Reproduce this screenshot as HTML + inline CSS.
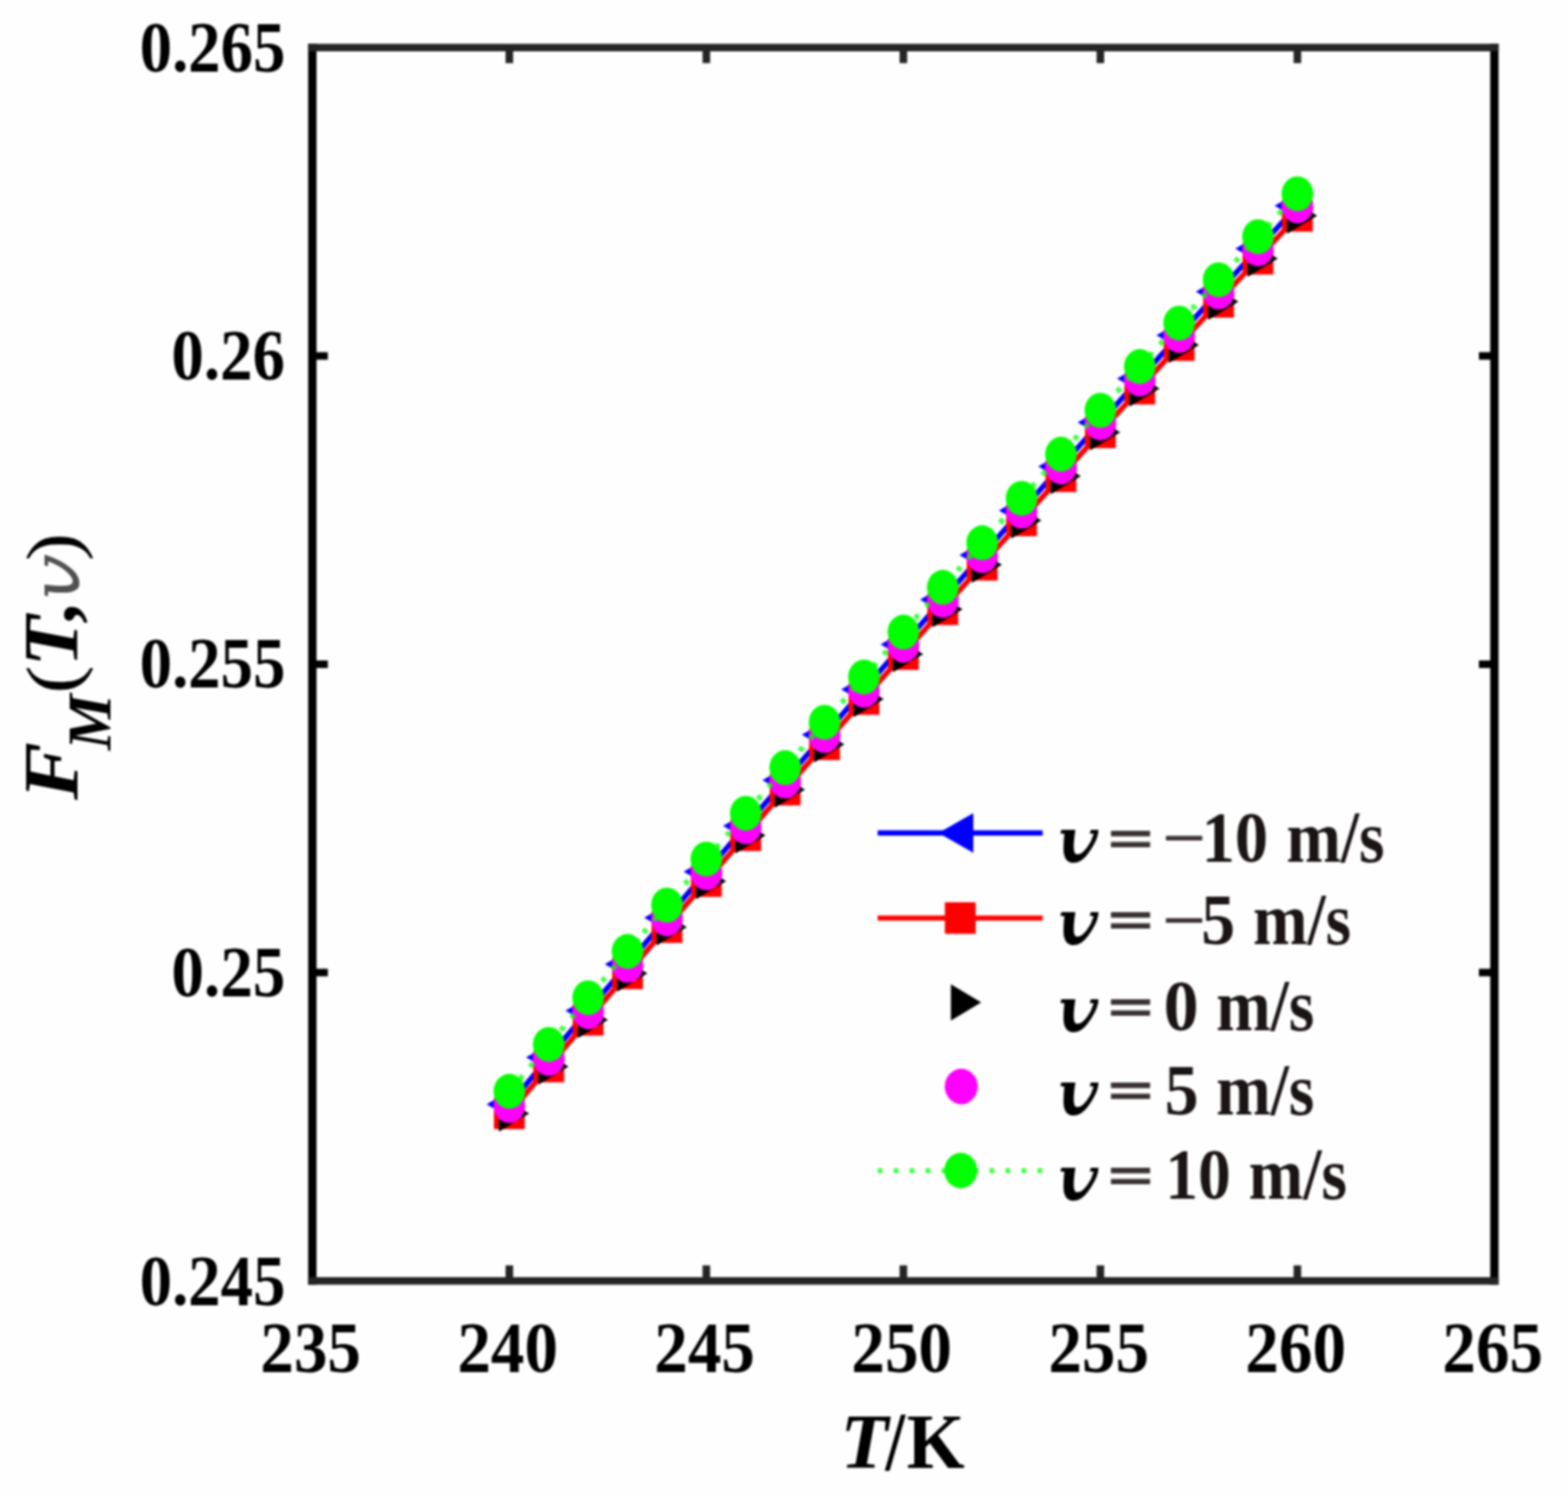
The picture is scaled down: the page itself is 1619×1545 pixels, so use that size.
<!DOCTYPE html>
<html lang="en">
<head>
<meta charset="utf-8">
<title>F_M(T, v) versus T/K</title>
<style>
html, body { margin: 0; padding: 0; background: #fefefe; }
body { width: 1619px; height: 1545px; overflow: hidden; }
svg { display: block; }
svg text { font-family: "Liberation Serif", "DejaVu Serif", serif; font-kerning: none; white-space: pre; }
svg .dj { font-family: "DejaVu Serif", "Liberation Serif", serif; }
svg .mth { font-family: "DejaVu Math TeX Gyre", "DejaVu Serif", "Liberation Serif", serif; }
</style>
</head>
<body>
<svg width="1619" height="1545" viewBox="0 0 1619 1545" style="filter: blur(0.9px)">
<rect width="1619" height="1545" fill="#fefefe"/>
<g id="series">
<polyline points="525.92,1140.39 566.60,1091.93 607.28,1043.68 647.97,995.66 688.65,947.85 729.33,900.25 770.02,852.88 810.70,805.72 851.38,758.79 892.07,712.06 932.75,665.56 973.43,619.27 1014.12,573.21 1054.80,527.35 1095.48,481.72 1136.17,436.30 1176.85,391.11 1217.53,346.13 1258.22,301.36 1298.90,256.82 1339.58,212.49" fill="none" stroke="#0000ff" stroke-width="5.4"/>
<polygon points="502.42,1140.39 538.42,1119.89 538.42,1160.89" fill="#0000ff"/>
<polygon points="543.10,1091.93 579.10,1071.43 579.10,1112.43" fill="#0000ff"/>
<polygon points="583.78,1043.68 619.78,1023.18 619.78,1064.18" fill="#0000ff"/>
<polygon points="624.47,995.66 660.47,975.16 660.47,1016.16" fill="#0000ff"/>
<polygon points="665.15,947.85 701.15,927.35 701.15,968.35" fill="#0000ff"/>
<polygon points="705.83,900.25 741.83,879.75 741.83,920.75" fill="#0000ff"/>
<polygon points="746.52,852.88 782.52,832.38 782.52,873.38" fill="#0000ff"/>
<polygon points="787.20,805.72 823.20,785.22 823.20,826.22" fill="#0000ff"/>
<polygon points="827.88,758.79 863.88,738.29 863.88,779.29" fill="#0000ff"/>
<polygon points="868.57,712.06 904.57,691.56 904.57,732.56" fill="#0000ff"/>
<polygon points="909.25,665.56 945.25,645.06 945.25,686.06" fill="#0000ff"/>
<polygon points="949.93,619.27 985.93,598.77 985.93,639.77" fill="#0000ff"/>
<polygon points="990.62,573.21 1026.62,552.71 1026.62,593.71" fill="#0000ff"/>
<polygon points="1031.30,527.35 1067.30,506.85 1067.30,547.85" fill="#0000ff"/>
<polygon points="1071.98,481.72 1107.98,461.22 1107.98,502.22" fill="#0000ff"/>
<polygon points="1112.67,436.30 1148.67,415.80 1148.67,456.80" fill="#0000ff"/>
<polygon points="1153.35,391.11 1189.35,370.61 1189.35,411.61" fill="#0000ff"/>
<polygon points="1194.03,346.13 1230.03,325.63 1230.03,366.63" fill="#0000ff"/>
<polygon points="1234.72,301.36 1270.72,280.86 1270.72,321.86" fill="#0000ff"/>
<polygon points="1275.40,256.82 1311.40,236.32 1311.40,277.32" fill="#0000ff"/>
<polygon points="1316.08,212.49 1352.08,191.99 1352.08,232.99" fill="#0000ff"/>
<polyline points="525.92,1149.84 566.60,1101.43 607.28,1053.23 647.97,1005.26 688.65,957.50 729.33,909.95 770.02,862.63 810.70,815.52 851.38,768.64 892.07,721.96 932.75,675.51 973.43,629.27 1014.12,583.26 1054.80,537.45 1095.48,491.87 1136.17,446.50 1176.85,401.36 1217.53,356.43 1258.22,311.71 1298.90,267.22 1339.58,222.94" fill="none" stroke="#ff0000" stroke-width="5.4"/>
<rect x="510.02" y="1133.54" width="31.8" height="32.6" fill="#ff0000"/>
<rect x="550.70" y="1085.13" width="31.8" height="32.6" fill="#ff0000"/>
<rect x="591.38" y="1036.93" width="31.8" height="32.6" fill="#ff0000"/>
<rect x="632.07" y="988.96" width="31.8" height="32.6" fill="#ff0000"/>
<rect x="672.75" y="941.20" width="31.8" height="32.6" fill="#ff0000"/>
<rect x="713.43" y="893.65" width="31.8" height="32.6" fill="#ff0000"/>
<rect x="754.12" y="846.33" width="31.8" height="32.6" fill="#ff0000"/>
<rect x="794.80" y="799.22" width="31.8" height="32.6" fill="#ff0000"/>
<rect x="835.48" y="752.34" width="31.8" height="32.6" fill="#ff0000"/>
<rect x="876.17" y="705.66" width="31.8" height="32.6" fill="#ff0000"/>
<rect x="916.85" y="659.21" width="31.8" height="32.6" fill="#ff0000"/>
<rect x="957.53" y="612.97" width="31.8" height="32.6" fill="#ff0000"/>
<rect x="998.22" y="566.96" width="31.8" height="32.6" fill="#ff0000"/>
<rect x="1038.90" y="521.15" width="31.8" height="32.6" fill="#ff0000"/>
<rect x="1079.58" y="475.57" width="31.8" height="32.6" fill="#ff0000"/>
<rect x="1120.27" y="430.20" width="31.8" height="32.6" fill="#ff0000"/>
<rect x="1160.95" y="385.06" width="31.8" height="32.6" fill="#ff0000"/>
<rect x="1201.63" y="340.13" width="31.8" height="32.6" fill="#ff0000"/>
<rect x="1242.32" y="295.41" width="31.8" height="32.6" fill="#ff0000"/>
<rect x="1283.00" y="250.92" width="31.8" height="32.6" fill="#ff0000"/>
<rect x="1323.68" y="206.64" width="31.8" height="32.6" fill="#ff0000"/>
<polygon points="546.42,1149.99 515.12,1131.19 515.12,1168.79" fill="#000"/>
<polygon points="587.10,1101.56 555.80,1082.76 555.80,1120.36" fill="#000"/>
<polygon points="627.78,1053.35 596.48,1034.55 596.48,1072.15" fill="#000"/>
<polygon points="668.47,1005.36 637.17,986.56 637.17,1024.16" fill="#000"/>
<polygon points="709.15,957.59 677.85,938.79 677.85,976.39" fill="#000"/>
<polygon points="749.83,910.03 718.53,891.23 718.53,928.83" fill="#000"/>
<polygon points="790.52,862.69 759.22,843.89 759.22,881.49" fill="#000"/>
<polygon points="831.20,815.57 799.90,796.77 799.90,834.37" fill="#000"/>
<polygon points="871.88,768.67 840.58,749.87 840.58,787.47" fill="#000"/>
<polygon points="912.57,721.98 881.27,703.18 881.27,740.78" fill="#000"/>
<polygon points="953.25,675.51 921.95,656.71 921.95,694.31" fill="#000"/>
<polygon points="993.93,629.26 962.63,610.46 962.63,648.06" fill="#000"/>
<polygon points="1034.62,583.23 1003.32,564.43 1003.32,602.03" fill="#000"/>
<polygon points="1075.30,537.41 1044.00,518.61 1044.00,556.21" fill="#000"/>
<polygon points="1115.98,491.81 1084.68,473.01 1084.68,510.61" fill="#000"/>
<polygon points="1156.67,446.43 1125.37,427.63 1125.37,465.23" fill="#000"/>
<polygon points="1197.35,401.27 1166.05,382.47 1166.05,420.07" fill="#000"/>
<polygon points="1238.03,356.32 1206.73,337.52 1206.73,375.12" fill="#000"/>
<polygon points="1278.72,311.59 1247.42,292.79 1247.42,330.39" fill="#000"/>
<polygon points="1319.40,267.08 1288.10,248.28 1288.10,285.88" fill="#000"/>
<polygon points="1360.08,222.79 1328.78,203.99 1328.78,241.59" fill="#000"/>
<ellipse cx="525.92" cy="1141.69" rx="16.3" ry="18.0" fill="#ff00ff"/>
<ellipse cx="566.60" cy="1093.17" rx="16.3" ry="18.0" fill="#ff00ff"/>
<ellipse cx="607.28" cy="1044.86" rx="16.3" ry="18.0" fill="#ff00ff"/>
<ellipse cx="647.97" cy="996.78" rx="16.3" ry="18.0" fill="#ff00ff"/>
<ellipse cx="688.65" cy="948.91" rx="16.3" ry="18.0" fill="#ff00ff"/>
<ellipse cx="729.33" cy="901.25" rx="16.3" ry="18.0" fill="#ff00ff"/>
<ellipse cx="770.02" cy="853.82" rx="16.3" ry="18.0" fill="#ff00ff"/>
<ellipse cx="810.70" cy="806.60" rx="16.3" ry="18.0" fill="#ff00ff"/>
<ellipse cx="851.38" cy="759.61" rx="16.3" ry="18.0" fill="#ff00ff"/>
<ellipse cx="892.07" cy="712.82" rx="16.3" ry="18.0" fill="#ff00ff"/>
<ellipse cx="932.75" cy="666.26" rx="16.3" ry="18.0" fill="#ff00ff"/>
<ellipse cx="973.43" cy="619.91" rx="16.3" ry="18.0" fill="#ff00ff"/>
<ellipse cx="1014.12" cy="573.79" rx="16.3" ry="18.0" fill="#ff00ff"/>
<ellipse cx="1054.80" cy="527.87" rx="16.3" ry="18.0" fill="#ff00ff"/>
<ellipse cx="1095.48" cy="482.18" rx="16.3" ry="18.0" fill="#ff00ff"/>
<ellipse cx="1136.17" cy="436.70" rx="16.3" ry="18.0" fill="#ff00ff"/>
<ellipse cx="1176.85" cy="391.45" rx="16.3" ry="18.0" fill="#ff00ff"/>
<ellipse cx="1217.53" cy="346.41" rx="16.3" ry="18.0" fill="#ff00ff"/>
<ellipse cx="1258.22" cy="301.58" rx="16.3" ry="18.0" fill="#ff00ff"/>
<ellipse cx="1298.90" cy="256.98" rx="16.3" ry="18.0" fill="#ff00ff"/>
<ellipse cx="1339.58" cy="212.59" rx="16.3" ry="18.0" fill="#ff00ff"/>
<polyline points="525.92,1127.09 566.60,1078.68 607.28,1030.48 647.97,982.51 688.65,934.75 729.33,887.20 770.02,839.88 810.70,792.77 851.38,745.89 892.07,699.21 932.75,652.76 973.43,606.52 1014.12,560.51 1054.80,514.70 1095.48,469.12 1136.17,423.75 1176.85,378.61 1217.53,333.68 1258.22,288.96 1298.90,244.47 1339.58,200.19" fill="none" stroke="#00ff00" stroke-width="5.4" stroke-dasharray="5 11.5" stroke-opacity="0.75"/>
<ellipse cx="525.92" cy="1127.09" rx="16.3" ry="18.0" fill="#00ff00"/>
<ellipse cx="566.60" cy="1078.68" rx="16.3" ry="18.0" fill="#00ff00"/>
<ellipse cx="607.28" cy="1030.48" rx="16.3" ry="18.0" fill="#00ff00"/>
<ellipse cx="647.97" cy="982.51" rx="16.3" ry="18.0" fill="#00ff00"/>
<ellipse cx="688.65" cy="934.75" rx="16.3" ry="18.0" fill="#00ff00"/>
<ellipse cx="729.33" cy="887.20" rx="16.3" ry="18.0" fill="#00ff00"/>
<ellipse cx="770.02" cy="839.88" rx="16.3" ry="18.0" fill="#00ff00"/>
<ellipse cx="810.70" cy="792.77" rx="16.3" ry="18.0" fill="#00ff00"/>
<ellipse cx="851.38" cy="745.89" rx="16.3" ry="18.0" fill="#00ff00"/>
<ellipse cx="892.07" cy="699.21" rx="16.3" ry="18.0" fill="#00ff00"/>
<ellipse cx="932.75" cy="652.76" rx="16.3" ry="18.0" fill="#00ff00"/>
<ellipse cx="973.43" cy="606.52" rx="16.3" ry="18.0" fill="#00ff00"/>
<ellipse cx="1014.12" cy="560.51" rx="16.3" ry="18.0" fill="#00ff00"/>
<ellipse cx="1054.80" cy="514.70" rx="16.3" ry="18.0" fill="#00ff00"/>
<ellipse cx="1095.48" cy="469.12" rx="16.3" ry="18.0" fill="#00ff00"/>
<ellipse cx="1136.17" cy="423.75" rx="16.3" ry="18.0" fill="#00ff00"/>
<ellipse cx="1176.85" cy="378.61" rx="16.3" ry="18.0" fill="#00ff00"/>
<ellipse cx="1217.53" cy="333.68" rx="16.3" ry="18.0" fill="#00ff00"/>
<ellipse cx="1258.22" cy="288.96" rx="16.3" ry="18.0" fill="#00ff00"/>
<ellipse cx="1298.90" cy="244.47" rx="16.3" ry="18.0" fill="#00ff00"/>
<ellipse cx="1339.58" cy="200.19" rx="16.3" ry="18.0" fill="#00ff00"/>
</g>
<g id="axes">
<line x1="322.5" y1="45.300000000000004" x2="322.5" y2="1326.7" stroke="#000" stroke-width="8.6"/>
<line x1="1543.0" y1="45.300000000000004" x2="1543.0" y2="1326.7" stroke="#000" stroke-width="8.6"/>
<line x1="318.2" y1="49.2" x2="1547.3" y2="49.2" stroke="#242424" stroke-width="7.8"/>
<line x1="318.2" y1="1322.8" x2="1547.3" y2="1322.8" stroke="#242424" stroke-width="7.8"/>
<line x1="525.92" y1="49.2" x2="525.92" y2="65.2" stroke="#242424" stroke-width="7.8"/>
<line x1="525.92" y1="1322.8" x2="525.92" y2="1306.8" stroke="#242424" stroke-width="7.8"/>
<line x1="729.33" y1="49.2" x2="729.33" y2="65.2" stroke="#242424" stroke-width="7.8"/>
<line x1="729.33" y1="1322.8" x2="729.33" y2="1306.8" stroke="#242424" stroke-width="7.8"/>
<line x1="932.75" y1="49.2" x2="932.75" y2="65.2" stroke="#242424" stroke-width="7.8"/>
<line x1="932.75" y1="1322.8" x2="932.75" y2="1306.8" stroke="#242424" stroke-width="7.8"/>
<line x1="1136.17" y1="49.2" x2="1136.17" y2="65.2" stroke="#242424" stroke-width="7.8"/>
<line x1="1136.17" y1="1322.8" x2="1136.17" y2="1306.8" stroke="#242424" stroke-width="7.8"/>
<line x1="1339.58" y1="49.2" x2="1339.58" y2="65.2" stroke="#242424" stroke-width="7.8"/>
<line x1="1339.58" y1="1322.8" x2="1339.58" y2="1306.8" stroke="#242424" stroke-width="7.8"/>
<line x1="322.5" y1="1004.40" x2="338.5" y2="1004.40" stroke="#000" stroke-width="7.8"/>
<line x1="1543.0" y1="1004.40" x2="1527.0" y2="1004.40" stroke="#000" stroke-width="7.8"/>
<line x1="322.5" y1="686.00" x2="338.5" y2="686.00" stroke="#000" stroke-width="7.8"/>
<line x1="1543.0" y1="686.00" x2="1527.0" y2="686.00" stroke="#000" stroke-width="7.8"/>
<line x1="322.5" y1="367.60" x2="338.5" y2="367.60" stroke="#000" stroke-width="7.8"/>
<line x1="1543.0" y1="367.60" x2="1527.0" y2="367.60" stroke="#000" stroke-width="7.8"/>
</g>
<g id="legend">
<line x1="906.2" y1="860.2" x2="1076.6" y2="860.2" stroke="#0000ff" stroke-width="5.4"/>
<polygon points="969.00,860.20 1005.00,839.70 1005.00,880.70" fill="#0000ff"/>
<line x1="906.2" y1="948.1" x2="1076.6" y2="948.1" stroke="#ff0000" stroke-width="5.4"/>
<rect x="975.60" y="931.80" width="31.8" height="32.6" fill="#ff0000"/>
<polygon points="1013.10,1035.30 981.80,1016.50 981.80,1054.10" fill="#000"/>
<ellipse cx="992.50" cy="1122.10" rx="17.0" ry="18.3" fill="#ff00ff"/>
<line x1="906.2" y1="1208.9" x2="1077.6" y2="1208.9" stroke="#00ff00" stroke-width="5" stroke-dasharray="5 11.5" stroke-opacity="0.75"/>
<ellipse cx="992.00" cy="1208.90" rx="17.0" ry="18.3" fill="#00ff00"/>
</g>
<g id="labels">
<text><tspan x="268.74" y="1416.93" font-size="73.65" textLength="103.95" lengthAdjust="spacingAndGlyphs" font-weight="bold" fill="#000">235</tspan></text>
<text><tspan x="472.15" y="1416.93" font-size="73.65" textLength="104.06" lengthAdjust="spacingAndGlyphs" font-weight="bold" fill="#000">240</tspan></text>
<text><tspan x="675.57" y="1416.93" font-size="73.65" textLength="103.95" lengthAdjust="spacingAndGlyphs" font-weight="bold" fill="#000">245</tspan></text>
<text><tspan x="878.99" y="1416.93" font-size="73.65" textLength="104.06" lengthAdjust="spacingAndGlyphs" font-weight="bold" fill="#000">250</tspan></text>
<text><tspan x="1082.41" y="1416.93" font-size="73.65" textLength="103.95" lengthAdjust="spacingAndGlyphs" font-weight="bold" fill="#000">255</tspan></text>
<text><tspan x="1285.82" y="1416.93" font-size="73.65" textLength="104.06" lengthAdjust="spacingAndGlyphs" font-weight="bold" fill="#000">260</tspan></text>
<text><tspan x="1489.24" y="1416.93" font-size="73.65" textLength="103.95" lengthAdjust="spacingAndGlyphs" font-weight="bold" fill="#000">265</tspan></text>
<text><tspan x="144.20" y="73.92" font-size="74.54" textLength="150.50" lengthAdjust="spacingAndGlyphs" font-weight="bold" fill="#000">0.265</tspan></text>
<text><tspan x="177.00" y="392.32" font-size="74.54" textLength="117.21" lengthAdjust="spacingAndGlyphs" font-weight="bold" fill="#000">0.26</tspan></text>
<text><tspan x="144.20" y="710.42" font-size="74.54" textLength="150.50" lengthAdjust="spacingAndGlyphs" font-weight="bold" fill="#000">0.255</tspan></text>
<text><tspan x="176.99" y="1028.82" font-size="74.54" textLength="117.73" lengthAdjust="spacingAndGlyphs" font-weight="bold" fill="#000">0.25</tspan></text>
<text><tspan x="144.20" y="1347.82" font-size="74.54" textLength="150.50" lengthAdjust="spacingAndGlyphs" font-weight="bold" fill="#000">0.245</tspan></text>
<text><tspan x="867.86" y="1516.15" font-size="79.72" textLength="49.44" lengthAdjust="spacingAndGlyphs" font-weight="bold" font-style="italic" fill="#000">T</tspan><tspan x="914.26" y="1518.11" font-size="85.72" textLength="20.24" lengthAdjust="spacingAndGlyphs" font-weight="bold" fill="#000">/</tspan><tspan x="936.34" y="1516.15" font-size="79.72" textLength="59.71" lengthAdjust="spacingAndGlyphs" font-weight="bold" fill="#000">K</tspan></text>
<text transform="rotate(-90)"><tspan x="-826.26" y="80.25" font-size="81.10" textLength="60.01" lengthAdjust="spacingAndGlyphs" font-weight="bold" font-style="italic" fill="#000">F</tspan><tspan x="-774.69" y="113.85" font-size="63.53" textLength="57.93" lengthAdjust="spacingAndGlyphs" font-weight="bold" font-style="italic" fill="#000">M</tspan><tspan x="-716.28" y="80.33" font-size="76.65" textLength="29.04" lengthAdjust="spacingAndGlyphs"  fill="#000">(</tspan><tspan x="-688.53" y="80.25" font-size="81.10" textLength="52.76" lengthAdjust="spacingAndGlyphs" font-weight="bold" font-style="italic" fill="#000">T</tspan><tspan x="-643.92" y="78.43" font-size="80.86" textLength="20.25" lengthAdjust="spacingAndGlyphs" font-weight="bold" fill="#000">,</tspan><tspan x="-622.63" y="82.15" font-size="68.98" textLength="56.46" lengthAdjust="spacingAndGlyphs" class="mth" fill="#505050">𝑣</tspan><tspan x="-579.35" y="80.33" font-size="76.65" textLength="28.91" lengthAdjust="spacingAndGlyphs"  fill="#000">)</tspan></text>
<text><tspan x="1089.53" y="891.45" font-size="65.58" textLength="50.31" lengthAdjust="spacingAndGlyphs" class="mth" fill="#000">𝒗</tspan> <tspan x="1140.31" y="881.82" font-size="50.15" textLength="54.08" lengthAdjust="spacingAndGlyphs" class="dj" font-weight="bold" fill="#3a3232">=</tspan> <tspan x="1199.50" y="888.43" font-size="67.31" textLength="45.97" lengthAdjust="spacingAndGlyphs" font-weight="bold" fill="#3a3232">−</tspan><tspan x="1240.75" y="890.12" font-size="74.84" textLength="68.72" lengthAdjust="spacingAndGlyphs" font-weight="bold" fill="#1a1414">10</tspan> <tspan x="1328.13" y="890.11" font-size="75.55" textLength="101.47" lengthAdjust="spacingAndGlyphs" font-weight="bold" fill="#1a1414">m/s</tspan></text>
<text><tspan x="1089.53" y="975.85" font-size="65.58" textLength="50.31" lengthAdjust="spacingAndGlyphs" class="mth" fill="#000">𝒗</tspan> <tspan x="1140.31" y="966.22" font-size="50.15" textLength="54.08" lengthAdjust="spacingAndGlyphs" class="dj" font-weight="bold" fill="#3a3232">=</tspan> <tspan x="1199.50" y="972.83" font-size="67.31" textLength="45.97" lengthAdjust="spacingAndGlyphs" font-weight="bold" fill="#3a3232">−</tspan><tspan x="1240.24" y="974.52" font-size="74.84" textLength="35.08" lengthAdjust="spacingAndGlyphs" font-weight="bold" fill="#1a1414">5</tspan> <tspan x="1293.73" y="974.51" font-size="75.55" textLength="101.47" lengthAdjust="spacingAndGlyphs" font-weight="bold" fill="#1a1414">m/s</tspan></text>
<text><tspan x="1089.53" y="1065.75" font-size="65.58" textLength="50.31" lengthAdjust="spacingAndGlyphs" class="mth" fill="#000">𝒗</tspan> <tspan x="1140.31" y="1056.12" font-size="50.15" textLength="54.08" lengthAdjust="spacingAndGlyphs" class="dj" font-weight="bold" fill="#3a3232">=</tspan> <tspan x="1201.60" y="1064.42" font-size="74.84" textLength="36.10" lengthAdjust="spacingAndGlyphs" font-weight="bold" fill="#1a1414">0</tspan> <tspan x="1255.73" y="1064.41" font-size="75.55" textLength="101.47" lengthAdjust="spacingAndGlyphs" font-weight="bold" fill="#1a1414">m/s</tspan></text>
<text><tspan x="1089.53" y="1151.85" font-size="65.58" textLength="50.31" lengthAdjust="spacingAndGlyphs" class="mth" fill="#000">𝒗</tspan> <tspan x="1140.31" y="1142.22" font-size="50.15" textLength="54.08" lengthAdjust="spacingAndGlyphs" class="dj" font-weight="bold" fill="#3a3232">=</tspan> <tspan x="1202.44" y="1150.52" font-size="74.84" textLength="35.08" lengthAdjust="spacingAndGlyphs" font-weight="bold" fill="#1a1414">5</tspan> <tspan x="1255.73" y="1150.51" font-size="75.55" textLength="101.47" lengthAdjust="spacingAndGlyphs" font-weight="bold" fill="#1a1414">m/s</tspan></text>
<text><tspan x="1089.53" y="1239.75" font-size="65.58" textLength="50.31" lengthAdjust="spacingAndGlyphs" class="mth" fill="#000">𝒗</tspan> <tspan x="1140.31" y="1230.12" font-size="50.15" textLength="54.08" lengthAdjust="spacingAndGlyphs" class="dj" font-weight="bold" fill="#3a3232">=</tspan> <tspan x="1203.24" y="1238.42" font-size="74.84" textLength="67.59" lengthAdjust="spacingAndGlyphs" font-weight="bold" fill="#1a1414">10</tspan> <tspan x="1289.33" y="1238.41" font-size="75.55" textLength="101.47" lengthAdjust="spacingAndGlyphs" font-weight="bold" fill="#1a1414">m/s</tspan></text>
</g>
</svg>
</body>
</html>
